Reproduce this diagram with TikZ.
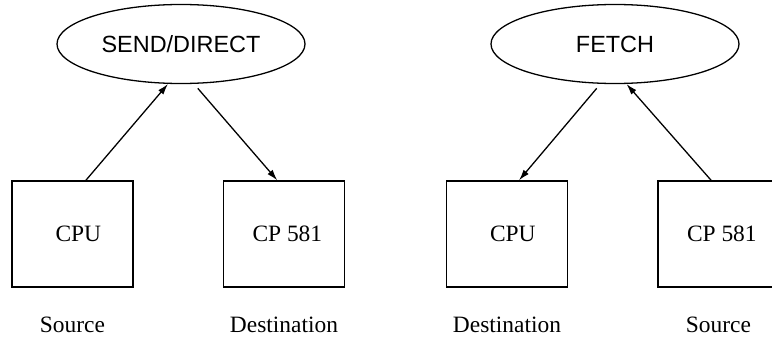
\documentclass[tikz,border=0pt]{standalone}
\usepackage{fontspec}
\setmainfont{Liberation Serif}
\newfontfamily\ellfont{Liberation Sans}
\usetikzlibrary{arrows.meta,positioning,shapes.geometric}

\begin{document}
\begin{tikzpicture}[
  x=0.03cm, y=-0.03cm,
  node distance=0.87cm,
  unit/.style={draw, line width=1.1pt, minimum width=3.63cm, minimum height=3.18cm,
               font=\fontsize{20}{24}\selectfont},
  job/.style={draw, ellipse, line width=1.1pt, inner sep=0pt, minimum width=7.44cm,
              minimum height=2.37cm, font=\ellfont\fontsize{20}{24}\selectfont},
  role/.style={inner sep=0pt, anchor=north, font=\fontsize{20}{24}\selectfont},
  flow/.style={->, line width=1.1pt},
  >={Latex[length=3.3mm, width=2mm]}
]
\useasboundingbox (0,0) rectangle (772,337);
% send / direct
\node[job]  (send) at (181,44)    {SEND/DIRECT};
\node[unit] (cpuA) at (72.5,234)  {\hspace{0.35cm}CPU};
\node[unit] (cpA)  at (284,234)   {\hspace{0.2cm}CP 581};
\node[role, below=of cpuA] (srcA) {Source};
\node[role, below=of cpA]  (dstA) {Destination};
\draw[flow] ([xshift=0.4cm]cpuA.north) -- (send.252);
\draw[flow, shorten <=5pt] (send.288) -- ([xshift=-0.2cm]cpA.north);
% fetch
\node[job]  (fetch) at (615,44)   {FETCH};
\node[unit] (cpuB)  at (507,234)  {\hspace{0.35cm}CPU};
\node[unit] (cpB)   at (718.5,234) {\hspace{0.2cm}CP 581};
\node[role, below=of cpuB] (dstB) {Destination};
\node[role, below=of cpB]  (srcB) {Source};
\draw[flow, shorten <=5pt] (fetch.250) -- ([xshift=0.36cm]cpuB.north);
\draw[flow] ([xshift=-0.22cm]cpB.north) -- (fetch.286);
\end{tikzpicture}
\end{document}
